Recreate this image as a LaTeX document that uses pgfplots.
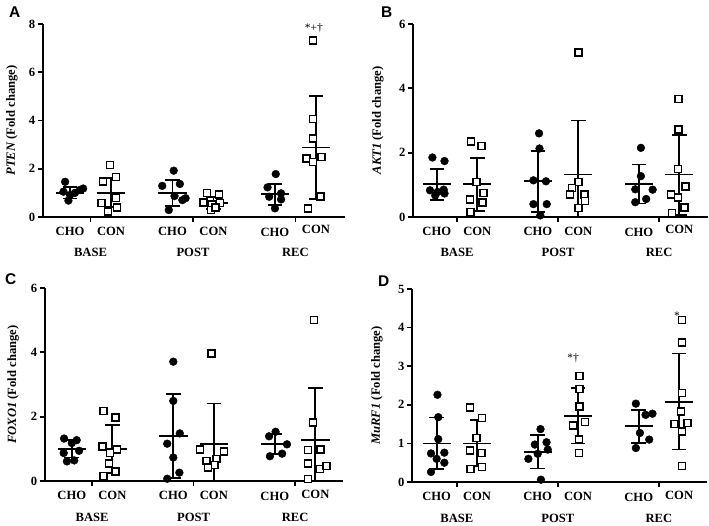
\documentclass[border=0pt]{standalone}
\usepackage{fontspec}
\setmainfont{Liberation Serif}
\newfontfamily\arialfont{Liberation Sans}
\usepackage{pgfplots}
\pgfplotsset{compat=1.18}
\begin{document}
\begin{tikzpicture}
\path[use as bounding box] (0,0) rectangle (709pt,-526pt);
\tikzset{lbl/.style={anchor=base, inner sep=0pt, font=\fontsize{12.6}{15}\selectfont\bfseries}}
\pgfplotsset{
  panel/.style={scale only axis, anchor=south west, height=193pt, ymin=0,
    axis x line=bottom, axis y line=left,
    axis line style={-, line width=1.7pt},
    tick style={line width=1.7pt, black}, major tick length=5pt, tick align=outside,
    xtick={1.5,4,6.5}, xticklabels={}, clip=false,
    unbounded coords=jump,
    /pgf/number format/assume math mode=true,
    yticklabel style={font=\fontsize{12.6}{15}\selectfont\bfseries, inner sep=2.5pt},
    ylabel style={font=\fontsize{12.6}{15}\selectfont\bfseries, anchor=center},
    after end axis/.append code={
      \node[lbl, yshift=-18.5pt] at (axis cs:1,0) {CHO};
      \node[lbl, yshift=-18.5pt] at (axis cs:2,0) {CON};
      \node[lbl, yshift=-18.5pt] at (axis cs:3.5,0) {CHO};
      \node[lbl, yshift=-18.5pt] at (axis cs:4.5,0) {CON};
      \node[lbl, yshift=-19.5pt] at (axis cs:6,0) {CHO};
      \node[lbl, yshift=-17pt] at (axis cs:7,0) {CON};
      \node[lbl, yshift=-40pt] at (axis cs:1.5,0) {BASE};
      \node[lbl, yshift=-40pt] at (axis cs:4,0) {POST};
      \node[lbl, yshift=-40pt] at (axis cs:6.5,0) {REC};
    }},
  cho/.style={only marks, mark=*, mark size=3.9pt, mark options={draw=black, fill=black, line width=0.4pt}},
  con/.style={only marks, mark=square*, mark size=3.5pt, mark options={draw=black, fill=white, line width=1.5pt}},
  msd/.style={black, line width=1.8pt, mark=none},
}
% ---------------- A ----------------
\begin{axis}[panel, at={(43pt,-217pt)}, width=302pt, xmin=0.34, xmax=7.71, ymax=8,
  ytick={0,2,4,6,8}, ylabel={\textit{PTEN} (Fold change)},
  ylabel style={at={(axis description cs:-0.103,0.5)}}]
\addplot[con] coordinates {(1.98,2.15) (2.12,1.65) (1.81,1.47) (2.12,0.78) (1.77,0.57) (2.14,0.4) (1.93,0.22)
 (4.34,1.0) (4.63,0.94) (4.26,0.6) (4.46,0.52) (4.66,0.57) (4.44,0.3) (4.55,0.4)
 (6.93,7.31) (6.93,4.06) (6.93,3.25) (6.77,2.42) (7.14,2.49) (6.93,2.28) (7.11,0.84) (6.81,0.36)};
\addplot[cho] coordinates {(0.88,1.46) (0.84,1.05) (1.0,0.91) (0.96,0.68) (1.12,1.0) (1.24,1.12) (1.32,1.18)
 (3.53,1.92) (3.25,1.29) (3.68,1.37) (3.55,0.87) (3.74,0.7) (3.82,0.78) (3.41,0.29)
 (6.02,1.78) (5.82,1.23) (6.15,0.98) (5.86,0.84) (6.15,0.73) (6.0,0.36)};
\addplot[msd] coordinates {
 (0.65,1.0) (1.35,1.0) (1,nan) (1,0.77) (1,1.24) (1,nan) (0.82,1.24) (1.18,1.24) (1,nan) (0.82,0.77) (1.18,0.77) (1,nan)
 (1.65,1.0) (2.35,1.0) (2,nan) (2,0.4) (2,1.62) (2,nan) (1.82,1.62) (2.18,1.62) (2,nan) (1.82,0.4) (2.18,0.4) (2,nan)
 (3.15,1.0) (3.85,1.0) (3.5,nan) (3.5,0.46) (3.5,1.53) (3.5,nan) (3.32,1.53) (3.68,1.53) (3.5,nan) (3.32,0.46) (3.68,0.46) (3.5,nan)
 (4.15,0.57) (4.85,0.57) (4.5,nan) (4.5,0.32) (4.5,0.82) (4.5,nan) (4.32,0.82) (4.68,0.82) (4.5,nan) (4.32,0.32) (4.68,0.32) (4.5,nan)
 (5.65,0.95) (6.35,0.95) (6,nan) (6,0.5) (6,1.37) (6,nan) (5.82,1.37) (6.18,1.37) (6,nan) (5.82,0.5) (6.18,0.5) (6,nan)
 (6.65,2.88) (7.35,2.88) (7,nan) (7,0.73) (7,5.02) (7,nan) (6.82,5.02) (7.18,5.02) (7,nan) (6.82,0.73) (7.18,0.73) (7,nan)};
\node[anchor=base, inner sep=0pt, font=\fontsize{11.5}{13}\selectfont] at (axis cs:6.95,7.68) {*+\textdagger};
\end{axis}
% ---------------- B ----------------
\begin{axis}[panel, at={(413pt,-217pt)}, width=295pt, xmin=0.41, xmax=7.71, ymax=6,
  ytick={0,2,4,6}, ylabel={\textit{AKT1} (Fold change)},
  ylabel style={at={(axis description cs:-0.119,0.5)}}]
\addplot[con] coordinates {(1.84,2.34) (2.11,2.2) (1.98,1.09) (2.15,0.75) (1.82,0.55) (2.13,0.45) (1.83,0.16)
 (4.5,5.12) (4.5,1.09) (4.34,0.9) (4.3,0.7) (4.66,0.7) (4.67,0.49) (4.5,0.28)
 (6.98,3.67) (6.98,2.72) (6.97,1.5) (6.8,0.7) (7.15,0.95) (6.97,0.6) (7.13,0.29) (6.82,0.13)};
\addplot[cho] coordinates {(0.89,1.85) (1.19,1.74) (0.83,0.83) (1.02,0.78) (1.17,0.85) (0.96,0.67) (1.19,0.73)
 (3.53,2.6) (3.54,2.13) (3.39,1.14) (3.7,1.11) (3.39,0.4) (3.72,0.4) (3.56,0.05)
 (6.05,2.15) (6.05,1.27) (5.91,0.86) (6.34,0.85) (6.18,0.56) (5.91,0.46)};
\addplot[msd] coordinates {
 (0.65,1.02) (1.35,1.02) (1,nan) (1,0.52) (1,1.5) (1,nan) (0.82,1.5) (1.18,1.5) (1,nan) (0.82,0.52) (1.18,0.52) (1,nan)
 (1.65,1.02) (2.35,1.02) (2,nan) (2,0.19) (2,1.83) (2,nan) (1.82,1.83) (2.18,1.83) (2,nan) (1.82,0.19) (2.18,0.19) (2,nan)
 (3.15,1.11) (3.85,1.11) (3.5,nan) (3.5,0.16) (3.5,2.05) (3.5,nan) (3.32,2.05) (3.68,2.05) (3.5,nan) (3.32,0.16) (3.68,0.16) (3.5,nan)
 (4.15,1.32) (4.85,1.32) (4.5,nan) (4.5,0) (4.5,3.0) (4.5,nan) (4.32,3.0) (4.68,3.0) (4.5,nan)
 (5.65,1.02) (6.35,1.02) (6,nan) (6,0.42) (6,1.63) (6,nan) (5.82,1.63) (6.18,1.63) (6,nan) (5.82,0.42) (6.18,0.42) (6,nan)
 (6.65,1.32) (7.35,1.32) (7,nan) (7,0.05) (7,2.56) (7,nan) (6.82,2.56) (7.18,2.56) (7,nan) (6.82,0.05) (7.18,0.05) (7,nan)};
\end{axis}
% ---------------- C ----------------
\begin{axis}[panel, at={(45pt,-481pt)}, width=298pt, xmin=0.34, xmax=7.68, ymax=6,
  ytick={0,2,4,6}, ylabel={\textit{FOXO1} (Fold change)},
  ylabel style={at={(axis description cs:-0.107,0.5)}}]
\addplot[con] coordinates {(1.78,2.18) (2.08,1.98) (1.76,1.08) (2.11,0.98) (1.94,0.87) (1.92,0.54) (2.08,0.3) (1.78,0.15)
 (4.44,3.97) (4.16,0.98) (4.75,0.92) (4.32,0.62) (4.57,0.68) (4.52,0.49) (4.36,0.42)
 (6.97,5.01) (6.94,1.82) (6.82,0.96) (7.12,0.98) (6.82,0.54) (7.11,0.38) (7.27,0.46) (6.82,0.07)};
\addplot[cho] coordinates {(0.81,1.32) (1.12,1.27) (1.0,1.18) (0.8,0.87) (1.18,0.94) (0.88,0.61) (1.06,0.64)
 (3.5,3.71) (3.5,2.49) (3.66,1.48) (3.35,1.16) (3.5,0.73) (3.65,0.26) (3.35,0.07)
 (6.02,1.53) (5.86,1.39) (6.3,1.14) (5.88,0.77) (6.18,0.85)};
\addplot[msd] coordinates {
 (0.65,1.0) (1.35,1.0) (1,nan) (1,0.73) (1,1.28) (1,nan) (0.82,1.28) (1.18,1.28) (1,nan) (0.82,0.73) (1.18,0.73) (1,nan)
 (1.65,1.0) (2.35,1.0) (2,nan) (2,0.25) (2,1.75) (2,nan) (1.82,1.75) (2.18,1.75) (2,nan) (1.82,0.25) (2.18,0.25) (2,nan)
 (3.15,1.4) (3.85,1.4) (3.5,nan) (3.5,0.1) (3.5,2.7) (3.5,nan) (3.32,2.7) (3.68,2.7) (3.5,nan) (3.32,0.1) (3.68,0.1) (3.5,nan)
 (4.15,1.16) (4.85,1.16) (4.5,nan) (4.5,0) (4.5,2.41) (4.5,nan) (4.32,2.41) (4.68,2.41) (4.5,nan)
 (5.65,1.14) (6.35,1.14) (6,nan) (6,0.83) (6,1.46) (6,nan) (5.82,1.46) (6.18,1.46) (6,nan) (5.82,0.83) (6.18,0.83) (6,nan)
 (6.65,1.27) (7.35,1.27) (7,nan) (7,0) (7,2.88) (7,nan) (6.82,2.88) (7.18,2.88) (7,nan)};
\end{axis}
% ---------------- D ----------------
\begin{axis}[panel, at={(412pt,-482pt)}, width=295pt, xmin=0.39, xmax=7.69, ymax=5,
  ytick={0,1,2,3,4,5}, ylabel={\textit{MuRF1} (Fold change)},
  ylabel style={at={(axis description cs:-0.119,0.5)}}]
\addplot[con] coordinates {(1.83,1.93) (2.12,1.66) (1.98,1.14) (1.82,0.82) (2.11,0.75) (1.84,0.34) (2.12,0.39)
 (4.53,2.74) (4.53,2.41) (4.53,1.96) (4.38,1.46) (4.67,1.55) (4.52,1.1) (4.52,0.75)
 (7.07,4.2) (7.07,3.62) (7.07,2.31) (7.05,1.83) (6.88,1.5) (7.21,1.53) (7.07,1.31) (7.07,0.42)};
\addplot[cho] coordinates {(1.02,2.26) (1.04,1.68) (1.04,1.11) (0.86,0.74) (1.19,0.76) (1.0,0.6) (1.19,0.5) (0.86,0.26)
 (3.57,1.37) (3.43,0.97) (3.72,1.03) (3.5,0.73) (3.75,0.84) (3.27,0.6) (3.58,0.06)
 (5.93,2.03) (6.17,1.74) (6.34,1.77) (6.03,1.27) (6.26,1.1) (5.93,0.88)};
\addplot[msd] coordinates {
 (0.65,1.0) (1.35,1.0) (1,nan) (1,0.34) (1,1.67) (1,nan) (0.82,1.67) (1.18,1.67) (1,nan) (0.82,0.34) (1.18,0.34) (1,nan)
 (1.65,1.0) (2.35,1.0) (2,nan) (2,0.41) (2,1.61) (2,nan) (1.82,1.61) (2.18,1.61) (2,nan) (1.82,0.41) (2.18,0.41) (2,nan)
 (3.15,0.78) (3.85,0.78) (3.5,nan) (3.5,0.35) (3.5,1.21) (3.5,nan) (3.32,1.21) (3.68,1.21) (3.5,nan) (3.32,0.35) (3.68,0.35) (3.5,nan)
 (4.15,1.72) (4.85,1.72) (4.5,nan) (4.5,1.0) (4.5,2.44) (4.5,nan) (4.32,2.44) (4.68,2.44) (4.5,nan) (4.32,1.0) (4.68,1.0) (4.5,nan)
 (5.65,1.45) (6.35,1.45) (6,nan) (6,1.02) (6,1.87) (6,nan) (5.82,1.87) (6.18,1.87) (6,nan) (5.82,1.02) (6.18,1.02) (6,nan)
 (6.65,2.08) (7.35,2.08) (7,nan) (7,0.84) (7,3.33) (7,nan) (6.82,3.33) (7.18,3.33) (7,nan) (6.82,0.84) (7.18,0.84) (7,nan)};
\node[anchor=base, inner sep=0pt, font=\fontsize{11.5}{13}\selectfont] at (axis cs:4.38,3.13) {*\textdagger};
\node[anchor=base, inner sep=0pt, font=\fontsize{11.5}{13}\selectfont] at (axis cs:6.95,4.2) {*};
\end{axis}
% panel letters
\node[anchor=base west, inner sep=0pt, font=\arialfont\bfseries\fontsize{15.5}{18}\selectfont] at (9pt,-18pt) {A};
\node[anchor=base west, inner sep=0pt, font=\arialfont\bfseries\fontsize{15.5}{18}\selectfont] at (381pt,-18pt) {B};
\node[anchor=base west, inner sep=0pt, font=\arialfont\bfseries\fontsize{15.5}{18}\selectfont] at (5pt,-285pt) {C};
\node[anchor=base west, inner sep=0pt, font=\arialfont\bfseries\fontsize{15.5}{18}\selectfont] at (378pt,-287pt) {D};
\end{tikzpicture}
\end{document}
